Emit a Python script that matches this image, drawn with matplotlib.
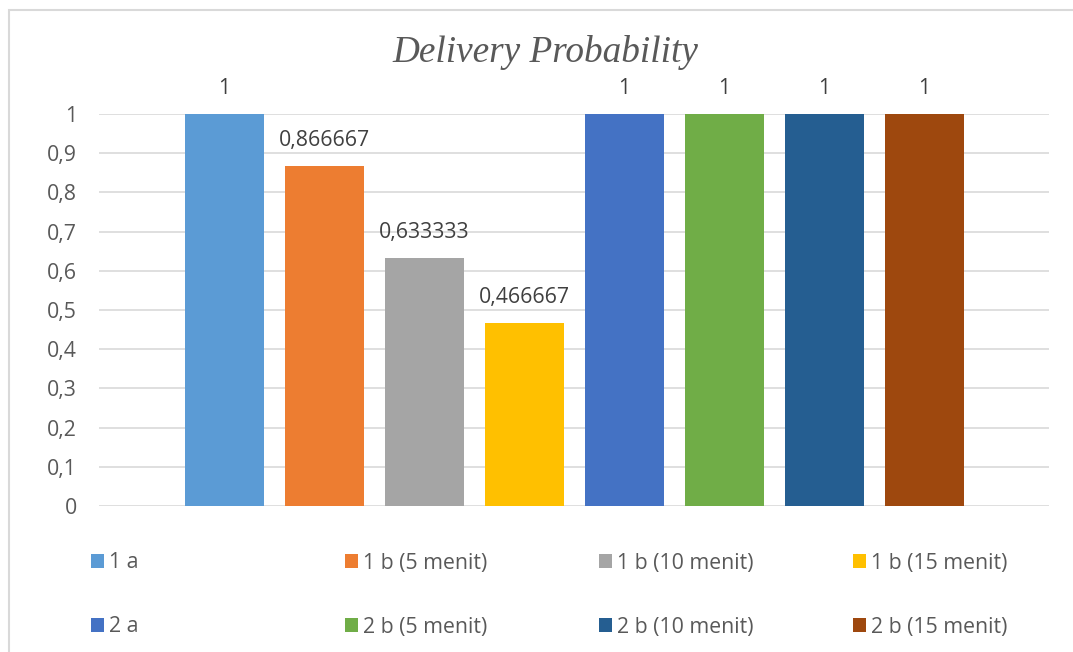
import matplotlib
matplotlib.use("Agg")
import matplotlib.pyplot as plt
from matplotlib.patches import Rectangle, Patch
import numpy as np

series = ["1 a", "1 b (5 menit)", "1 b (10 menit)", "1 b (15 menit)",
          "2 a", "2 b (5 menit)", "2 b (10 menit)", "2 b (15 menit)"]
values = [1, 0.866667, 0.633333, 0.466667, 1, 1, 1, 1]
labels = ["1", "0,866667", "0,633333", "0,466667", "1", "1", "1", "1"]
colors = ["#5B9BD5", "#ED7D31", "#A5A5A5", "#FFC000",
          "#4472C4", "#70AD47", "#255E91", "#9E480E"]
yticks = [0, 0.1, 0.2, 0.3, 0.4, 0.5, 0.6, 0.7, 0.8, 0.9, 1]
yticklabels = ["0", "0,1", "0,2", "0,3", "0,4", "0,5", "0,6", "0,7", "0,8", "0,9", "1"]

W, H = 1073, 652
fig = plt.figure(figsize=(W / 100, H / 100), dpi=100)
plt.rcParams['font.family'] = ['Open Sans', 'DejaVu Sans']
txt = "#595959"
fs = 15.3

# chart border (only top and left edges visible)
fig.patches.append(Rectangle((8.5 / W, -0.1), 1.2, 1 - 9.5 / H + 0.1,
                             transform=fig.transFigure, fill=False,
                             edgecolor="#D9D9D9", linewidth=1.5))

ax = fig.add_axes([99 / W, (H - 506) / H, (1049 - 99) / W, (506 - 114) / H])
x = np.arange(len(series))
bars = ax.bar(x, values, width=0.79, color=colors, zorder=3)
ax.set_xlim(-1.25, 8.25)
ax.set_ylim(0, 1)
ax.set_yticks(yticks)
ax.set_yticklabels(yticklabels)
ax.set_xticks([])
ax.tick_params(axis='y', length=0, pad=16, labelsize=fs, labelcolor=txt)
for s in ax.spines.values():
    s.set_visible(False)
ax.grid(axis='y', color="#D9D9D9", linewidth=1.2, zorder=0)
ax.set_axisbelow(True)

for b, lab in zip(bars, labels):
    ax.annotate(lab, (b.get_x() + b.get_width() / 2, b.get_height()),
                xytext=(0, 18.5), textcoords='offset points', ha='center', va='center',
                fontsize=fs, color="#404040", annotation_clip=False)

fig.text(545 / W, 1 - 53 / H, "Delivery Probability", ha='center', va='center',
         fontsize=26.8, fontstyle='italic', family='Liberation Serif', color=txt)

col_x = [91, 345, 599, 853]
row_y = [563, 627]
for i, (name, c) in enumerate(zip(series, colors)):
    r, cidx = divmod(i, 4)
    h = Patch(facecolor=c, edgecolor='none')
    fig.legend(handles=[h], labels=[name], loc='center left',
               bbox_to_anchor=(col_x[cidx] / W, 1 - row_y[r] / H),
               frameon=False, fontsize=fs, labelcolor=txt,
               handlelength=0.62, handleheight=0.62, handletextpad=0.25,
               borderpad=0, borderaxespad=0)

fig.savefig("out.png", dpi=100)
